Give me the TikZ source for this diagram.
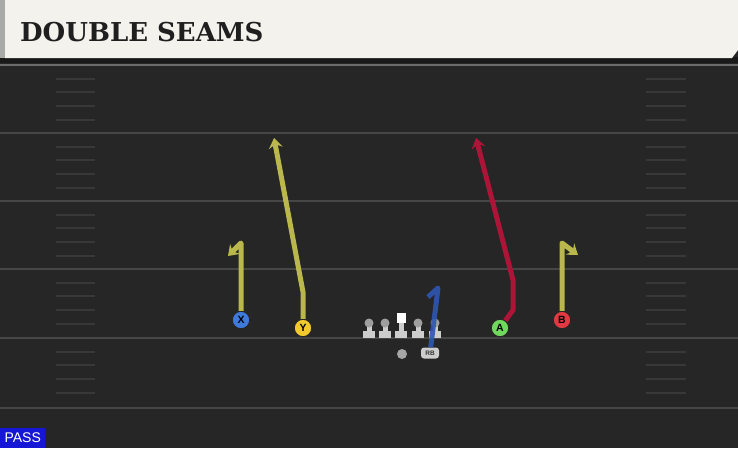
\documentclass[tikz,border=0pt]{standalone}
\usepackage{fontspec}
\setmainfont{Liberation Sans}
\newfontfamily\titlefont{DejaVu Serif}
\usetikzlibrary{arrows.meta, calc, positioning}
\definecolor{fieldgray}{RGB}{38,38,38}
\definecolor{yardgray}{RGB}{70,70,70}
\definecolor{hashgray}{RGB}{56,56,56}
\definecolor{titlecream}{RGB}{244,242,236}
\definecolor{titlestrip}{RGB}{168,170,168}
\definecolor{routeyellow}{RGB}{186,184,76}
\definecolor{routered}{RGB}{172,20,56}
\definecolor{routeblue}{RGB}{46,86,178}
\definecolor{playerx}{RGB}{62,122,218}
\definecolor{playery}{RGB}{242,202,44}
\definecolor{playera}{RGB}{112,216,92}
\definecolor{playerb}{RGB}{226,56,66}
\definecolor{passblue}{RGB}{22,22,214}
\definecolor{linegray}{RGB}{205,205,205}

\begin{document}
\begin{tikzpicture}[x=1pt,y=-1pt,
        every node/.style={font=\footnotesize},
        player/.style={draw=black!85, circle, line width=1pt, minimum size=17.5pt, inner sep=0pt, font=\bfseries\fontsize{10.5}{10.5}\selectfont},
        route/.style={line width=5pt, line join=round},
        tip/.style={-{Stealth[length=10pt, width=14pt, inset=3.5pt]}},
        headdot/.style={circle, fill=gray!75, inner sep=0pt, minimum size=9pt},
        stem/.style={fill=linegray},
        snapbox/.style={fill=white, inner sep=0pt, minimum width=9pt, minimum height=10pt},
        rbtag/.style={fill=linegray, rounded corners=3pt, inner sep=0pt, minimum width=18pt, minimum height=11pt, text=black!80, font=\bfseries\fontsize{6.5}{6.5}\selectfont}]
        % field and title bar
        \useasboundingbox (0,0) rectangle (738,448);
        \fill[fieldgray] (0,0) rectangle (738,448);
        \fill[black!90] (0,57) rectangle (738,63);
        \fill[titlecream] (5,0) -- (738,0) -- (738,50) -- (732,58) -- (5,58) -- cycle;
        \fill[titlestrip] (0,0) rectangle (5,58);
        \node[anchor=west, inner sep=0pt, text=black!88, font=\titlefont\bfseries\fontsize{26}{26}\selectfont] (title) at (20,32) {DOUBLE SEAMS};

        % yard lines and hashes
        \foreach \y in {133, 201, 269, 338, 408}{
            \draw[yardgray, line width=2pt] (0,\y) -- (738,\y);
        }
        \draw[yardgray!80, line width=1.5pt] (0,65) -- (738,65);
        \foreach \y in {65, 133, 201, 269, 338}{
            \foreach \d in {14, 27, 41, 55}{
                \draw[hashgray, line width=1.8pt] (56,\y+\d) -- (95,\y+\d);
                \draw[hashgray, line width=1.8pt] (646,\y+\d) -- (686,\y+\d);
            }
        }

        % offensive line
        \foreach \n/\x in {1/369, 2/385, 4/418, 5/435}{
            \fill[stem] (\x-2.5,323) rectangle (\x+2.5,332);
            \fill[stem] (\x-6,331) rectangle (\x+6,338);
            \node[headdot] (L\n) at (\x,323) {};
        }
        \fill[stem] (398.5,322) rectangle (403.5,332);
        \fill[stem] (395,331) rectangle (407,338);
        \node[snapbox] (L3) at (401,318) {};
        \node[circle, fill=gray!70, inner sep=0pt, minimum size=10pt] (QB) at (402,354) {};
        \node[rbtag] (RB) at (430,353) {RB};

        % players
        \node[player, fill=playerx] (X) at (241,320) {X};
        \node[player, fill=playery] (Y) at (303,328) {Y};
        \node[player, fill=playera] (A) at (500,328) {A};
        \node[player, fill=playerb] (B) at (562,320) {B};

        % routes
        \draw[route, routeyellow, tip] (X) -- (241,243) -- (228,256);
        \draw[route, routeyellow, tip] (Y) -- (303,292) -- (274,138);
        \draw[route, routered, tip] (A) -- (513,310) -- (513,280) -- (476,138);
        \draw[route, routeyellow, tip] (B) -- (562,243) -- (578,255);
        \draw[route, routeblue, opacity=0.9] (RB) -- (438,288) -- (428,297);

        % play type
        \node[fill=passblue, text=white, anchor=south west, inner sep=0pt, minimum width=45pt, minimum height=20pt, font=\fontsize{14}{14}\selectfont] (pass) at (0,448) {PASS};
    \end{tikzpicture}
\end{document}
